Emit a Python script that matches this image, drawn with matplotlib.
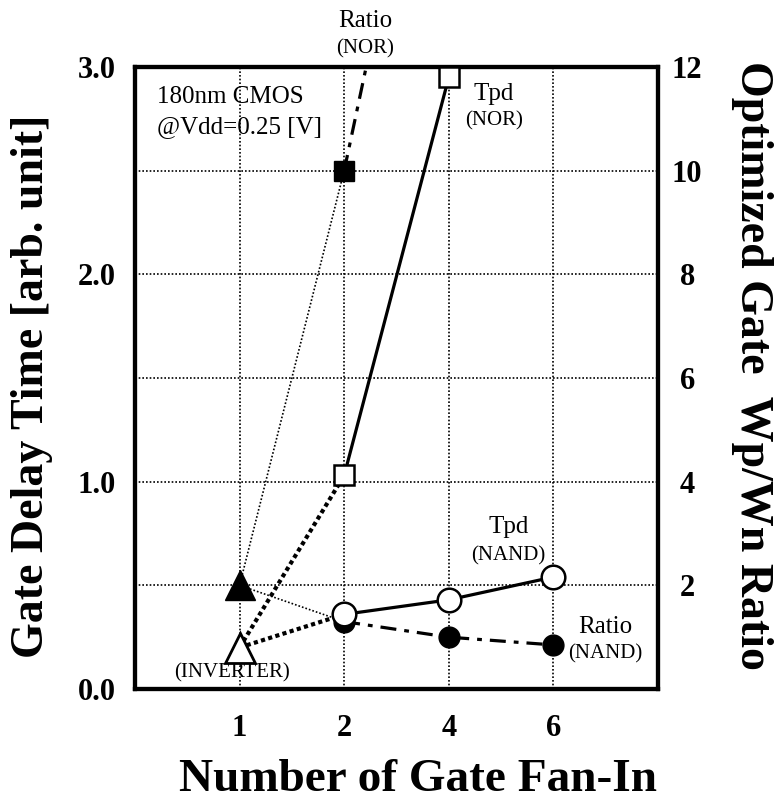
import matplotlib
matplotlib.use("Agg")
import matplotlib.pyplot as plt
import numpy as np

plt.rcParams['font.family'] = ['Liberation Serif', 'DejaVu Serif']

# ---- data ----
fan_in_labels = ['1', '2', '4', '6']
fan_in_pos = [1, 2, 3, 4]

tpd_inv = 0.20                      # inverter Tpd (fan-in 1)
tpd_nor = [1.03, 2.95]              # fan-in 2, 4
tpd_nand = [0.36, 0.43, 0.54]       # fan-in 2, 4, 6

ratio_inv = 2.0                     # inverter Wp/Wn
ratio_nor = [10.0, 19.5]            # fan-in 2, 4
ratio_nand = [1.30, 1.00, 0.85]     # fan-in 2, 4, 6

yticks_left = [0.0, 1.0, 2.0, 3.0]
yticks_right = [2, 4, 6, 8, 10, 12]

fig = plt.figure(figsize=(7.77, 8.02), dpi=100)
ax = fig.add_axes([0.1737, 0.1409, 0.6731, 0.7756])
ax2 = ax.twinx()
ax.set_zorder(ax2.get_zorder() + 1)
ax.patch.set_visible(False)

ax.set_xlim(0, 5)
ax.set_ylim(0, 3.0)
ax2.set_ylim(0, 12)

# grid
for x in fan_in_pos:
    ax.axvline(x, color='black', lw=1.2, ls=(0, (1, 1.2)), zorder=0)
for y in np.arange(0.5, 3.0, 0.5):
    ax.axhline(y, color='black', lw=1.2, ls=(0, (1, 1.2)), zorder=0)

# ---- ratio (right axis) ----
ax2.plot([fan_in_pos[0], fan_in_pos[1]], [ratio_inv, ratio_nor[0]], color='black', lw=1.2,
         ls=(0, (1, 1.2)), zorder=2)
ax2.plot([fan_in_pos[0], fan_in_pos[1]], [ratio_inv, ratio_nand[0]], color='black', lw=1.2,
         ls=(0, (1, 1.2)), zorder=2)
ax2.plot(fan_in_pos[1:3], ratio_nor, color='black', lw=2.3, ls=(0, (5, 2.5, 1.5, 2.5)), zorder=3)
ax2.plot(fan_in_pos[1:4], ratio_nand, color='black', lw=2.3, ls=(0, (5, 2.5, 1.5, 2.5)), zorder=3)
ax2.plot([fan_in_pos[0]], [ratio_inv], marker='^', ms=21, color='black', ls='none', zorder=5)
ax2.plot([fan_in_pos[1]], [ratio_nor[0]], marker='s', ms=14, color='black', ls='none', zorder=5)
ax2.plot(fan_in_pos[1:4], ratio_nand, marker='o', ms=15, color='black', ls='none', zorder=5)

# ---- Tpd (left axis) ----
dot_thick = (0, (1, 0.8))
ax.plot([fan_in_pos[0], fan_in_pos[1]], [tpd_inv, tpd_nor[0]], color='black', lw=3.0, ls=dot_thick,
        zorder=3)
ax.plot([fan_in_pos[0], fan_in_pos[1]], [tpd_inv, tpd_nand[0]], color='black', lw=3.0, ls=dot_thick,
        zorder=3)
ax.plot(fan_in_pos[1:3], tpd_nor, color='black', lw=2.3, zorder=3)
ax.plot(fan_in_pos[1:4], tpd_nand, color='black', lw=2.3, zorder=3)
ax.plot([fan_in_pos[0]], [tpd_inv], marker='^', ms=21, mfc='white', mec='black', mew=2,
        ls='none', zorder=5)
ax.plot(fan_in_pos[1:3], tpd_nor, marker='s', ms=15, mfc='white', mec='black', mew=1.8,
        ls='none', zorder=5, clip_on=False)
ax.plot(fan_in_pos[1:4], tpd_nand, marker='o', ms=17, mfc='white', mec='black', mew=1.8,
        ls='none', zorder=5)

# ---- axes styling ----
for a in (ax, ax2):
    for s in a.spines.values():
        s.set_linewidth(3.0)
    a.tick_params(length=0)

ax.set_xticks(fan_in_pos)
ax.set_xticklabels(fan_in_labels, fontsize=22, fontweight='bold')
ax.tick_params(axis='x', pad=18)
ax.set_yticks(yticks_left)
ax.set_yticklabels([f'{v:.1f}' for v in yticks_left], fontsize=22, fontweight='bold')
ax.tick_params(axis='y', pad=14)
ax2.set_yticks(yticks_right)
ax2.set_yticklabels([str(v) for v in yticks_right], fontsize=22, fontweight='bold', ha='center')
ax2.tick_params(axis='y', pad=21)

ax.set_xlabel('Number of Gate Fan-In', fontsize=34, fontweight='bold', va='baseline')
ax.xaxis.set_label_coords(0.541, -0.164)
ax.set_ylabel('Gate Delay Time [arb. unit]', fontsize=33, fontweight='bold', va='center',
              ha='center')
ax.yaxis.set_label_coords(-0.197, 0.487)
ax2.set_ylabel('Optimized Gate  Wp/Wn Ratio', fontsize=33, fontweight='bold', rotation=-90,
               va='center', ha='center')
ax2.yaxis.set_label_coords(1.18, 0.52)

# ---- annotations ----
ax.text(0.21, 2.855, '180nm CMOS', fontsize=18, ha='left', va='center')
ax.text(0.21, 2.71, '@Vdd=0.25 [V]', fontsize=18, ha='left', va='center')
ax.text(2.2, 3.22, 'Ratio', fontsize=18, ha='center', va='center', clip_on=False)
ax.text(2.2, 3.087, '(NOR)', fontsize=15, ha='center', va='center', clip_on=False)
ax.text(3.43, 2.87, 'Tpd', fontsize=18, ha='center', va='center')
ax.text(3.43, 2.74, '(NOR)', fontsize=15, ha='center', va='center')
ax.text(3.57, 0.78, 'Tpd', fontsize=18, ha='center', va='center')
ax.text(3.57, 0.64, '(NAND)', fontsize=15, ha='center', va='center')
ax.text(4.5, 0.30, 'Ratio', fontsize=18, ha='center', va='center')
ax.text(4.5, 0.17, '(NAND)', fontsize=15, ha='center', va='center')
ax.text(0.93, 0.077, '(INVERTER)', fontsize=15, ha='center', va='center')

fig.savefig('out.png', dpi=100)
